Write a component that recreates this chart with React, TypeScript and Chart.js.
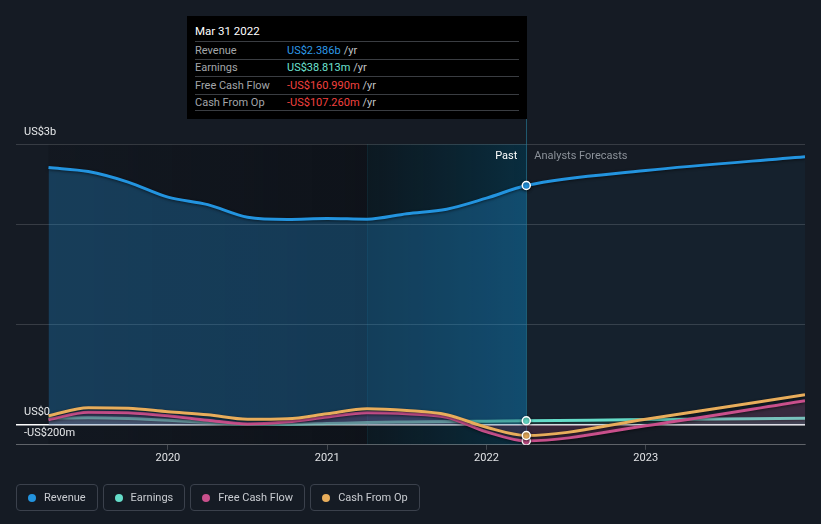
import React, { useEffect, useRef } from "react";
import { Chart, registerables } from "chart.js";

Chart.register(...registerables);

// ---- data (US$ millions, x = decimal year) ----
const periods = [2019.25, 2019.5, 2019.75, 2020.0, 2020.25, 2020.5, 2020.75, 2021.0, 2021.25, 2021.5, 2021.75, 2022.0, 2022.25, 2023.0, 2024.0];
const revenue = [2565, 2525, 2420, 2270, 2195, 2070, 2048, 2057, 2050, 2105, 2150, 2260, 2386, 2535, 2673];
const earnings = [65, 70, 62, 45, 22, 2, 3, 12, 22, 28, 33, 36, 38.813, 52, 65];
const freeCashFlow = [50, 125, 120, 90, 45, 8, 30, 77, 120, 110, 75, -70, -160.99, -10, 240];
const cashFromOp = [90, 170, 165, 130, 100, 55, 60, 110, 160, 142, 100, -25, -107.26, 55, 300];

const seriesNames = ["Revenue", "Earnings", "Free Cash Flow", "Cash From Op"];
const seriesColors = ["#2394df", "#65dcc9", "#c9508c", "#e8ad5b"];
const xTickValues = [2020, 2021, 2022, 2023];
const yTickValues = [-200, 0, 1000, 2000, 2800];
const yLabelValues = [2800, 0, -200];
const yLabelTexts = ["US$3b", "US$0", "-US$200m"];
const pastStart = 2019.25;
const highlightStart = 2021.25;
const markerX = 2022.25;
const tooltipTitle = "Mar 31 2022";
const pastText = "Past";
const forecastText = "Analysts Forecasts";

const FONT = "Roboto, 'Noto Sans', sans-serif";
const BG = "#151b24";

const allSeries = [revenue, earnings, freeCashFlow, cashFromOp];
const markerIndex = periods.indexOf(markerX);

function fmt(v: number): string {
  const a = Math.abs(v);
  const s = a >= 1000 ? (a / 1000).toFixed(3) + "b" : a.toFixed(3) + "m";
  return (v < 0 ? "-" : "") + "US$" + s;
}

const toPoints = (arr: number[]) => arr.map((y, i) => ({ x: periods[i], y }));

const backgroundPlugin = {
  id: "bgRegions",
  beforeDraw(chart: any) {
    const { ctx, chartArea, scales } = chart;
    const x = scales.x;
    const top = chartArea.top;
    const bottom = chartArea.bottom;
    const x0 = x.getPixelForValue(pastStart);
    const x1 = x.getPixelForValue(highlightStart);
    const x2 = x.getPixelForValue(markerX);
    ctx.save();
    const g1 = ctx.createLinearGradient(x0, 0, x1, 0);
    g1.addColorStop(0, "rgba(4,6,10,0.12)");
    g1.addColorStop(1, "rgba(4,6,10,0.38)");
    ctx.fillStyle = g1;
    ctx.fillRect(x0, top, x1 - x0, bottom - top);
    const g2 = ctx.createLinearGradient(x1, 0, x2, 0);
    g2.addColorStop(0, "rgba(6,24,32,0.55)");
    g2.addColorStop(1, "rgba(4,54,76,0.68)");
    ctx.fillStyle = g2;
    ctx.fillRect(x1, top, x2 - x1, bottom - top);
    ctx.restore();
  },
  beforeDatasetsDraw(chart: any) {
    const { ctx, chartArea, scales } = chart;
    const x2 = Math.round(scales.x.getPixelForValue(markerX)) + 0.5;
    const x1 = Math.round(scales.x.getPixelForValue(highlightStart)) + 0.5;
    ctx.save();
    ctx.strokeStyle = "rgba(38,130,160,0.6)";
    ctx.lineWidth = 1;
    ctx.beginPath();
    ctx.moveTo(x2, 119);
    ctx.lineTo(x2, chartArea.bottom);
    ctx.stroke();
    ctx.strokeStyle = "rgba(38,130,160,0.12)";
    ctx.beginPath();
    ctx.moveTo(x1, chartArea.top);
    ctx.lineTo(x1, chartArea.bottom);
    ctx.stroke();
    ctx.restore();
  },
  afterDraw(chart: any) {
    const { ctx, scales } = chart;
    const y = scales.y;
    const x = scales.x;
    ctx.save();
    ctx.font = `11px ${FONT}`;
    ctx.textBaseline = "middle";
    ctx.fillStyle = "#e6e8ea";
    ctx.textAlign = "left";
    yLabelValues.forEach((v, i) => {
      ctx.fillText(yLabelTexts[i], 24, y.getPixelForValue(v) - 12);
    });
    const xm = x.getPixelForValue(markerX);
    const ty = y.getPixelForValue(2800) + 12;
    ctx.textAlign = "right";
    ctx.fillStyle = "#ffffff";
    ctx.fillText(pastText, xm - 9, ty);
    ctx.textAlign = "left";
    ctx.fillStyle = "#8b9199";
    ctx.fillText(forecastText, xm + 8, ty);
    ctx.restore();
  },
};

const shadowPlugin = {
  id: "lineShadow",
  beforeDatasetDraw(chart: any) {
    const ctx = chart.ctx;
    ctx.save();
    ctx.shadowColor = "rgba(0,0,0,0.55)";
    ctx.shadowBlur = 3;
    ctx.shadowOffsetY = 1;
  },
  afterDatasetDraw(chart: any) {
    chart.ctx.restore();
  },
};

function hexToRgba(hex: string, a: number) {
  const n = parseInt(hex.slice(1), 16);
  return `rgba(${(n >> 16) & 255},${(n >> 8) & 255},${n & 255},${a})`;
}

export default function App() {
  const canvasRef = useRef<HTMLCanvasElement | null>(null);

  useEffect(() => {
    if (!canvasRef.current) return;
    Chart.defaults.font.family = FONT;
    const radius = (c: any) => (c.raw && c.raw.x === markerX ? 4 : 0);
    const mk = (idx: number, fill: any, bg: string, width: number, segment?: any) => ({
      label: seriesNames[idx],
      data: toPoints(allSeries[idx]),
      borderColor: seriesColors[idx],
      backgroundColor: bg,
      borderWidth: width,
      fill,
      cubicInterpolationMode: "monotone" as const,
      pointRadius: radius,
      pointHoverRadius: radius,
      pointBackgroundColor: seriesColors[idx],
      pointBorderColor: "#ffffff",
      pointBorderWidth: 1.5,
      segment,
    });
    const chart = new Chart(canvasRef.current, {
      type: "line",
      data: {
        datasets: [
          mk(3, false, "transparent", 3),
          mk(2, "origin", hexToRgba(seriesColors[2], 0.2), 3),
          mk(1, "origin", hexToRgba(seriesColors[1], 0.18), 3, {
            borderColor: (c: any) =>
              c.p0.parsed.x < markerX ? hexToRgba(seriesColors[1], 0.65) : undefined,
          }),
          mk(0, "origin", hexToRgba(seriesColors[0], 0.3), 3, {
            backgroundColor: (c: any) =>
              c.p0.parsed.x >= markerX ? hexToRgba(seriesColors[0], 0.05) : undefined,
          }),
        ],
      },
      options: {
        animation: false,
        responsive: false,
        events: [],
        layout: { padding: { left: 16, right: 16, top: 144, bottom: 57 } },
        plugins: { legend: { display: false }, tooltip: { enabled: false } },
        scales: {
          x: {
            type: "linear",
            min: 2019.046,
            max: 2024.0,
            afterBuildTicks: (axis: any) => {
              axis.ticks = xTickValues.map((v) => ({ value: v }));
            },
            ticks: {
              color: "#e0e2e5",
              font: { size: 11, family: FONT },
              padding: 2,
              maxRotation: 0,
              callback: (v: any) => String(v),
            },
            grid: {
              display: true,
              drawOnChartArea: false,
              drawTicks: true,
              tickLength: 5,
              color: "rgba(255,255,255,0.2)",
            },
            border: { display: true, color: "rgba(255,255,255,0.2)" },
          },
          y: {
            type: "linear",
            min: -200,
            max: 2800,
            afterBuildTicks: (axis: any) => {
              axis.ticks = yTickValues.map((v) => ({ value: v }));
            },
            ticks: { display: false },
            grid: {
              drawTicks: false,
              color: (c: any) => (c.tick && c.tick.value === 0 ? "#ffffff" : "rgba(255,255,255,0.15)"),
              lineWidth: (c: any) => (c.tick && c.tick.value === 0 ? 1.5 : 1),
            },
            border: { display: false },
          },
        },
      },
      plugins: [backgroundPlugin, shadowPlugin],
    } as any);
    return () => chart.destroy();
  }, []);

  const valueColor = (i: number) => {
    const v = allSeries[i][markerIndex];
    if (v < 0) return "#f2413f";
    return i === 0 ? "#2d9ae8" : "#6de3d2";
  };

  return (
    <div
      style={{
        position: "fixed",
        left: 0,
        top: 0,
        width: 821,
        height: 524,
        background: BG,
        fontFamily: FONT,
        overflow: "hidden",
      }}
    >
      <canvas
        ref={canvasRef}
        width={821}
        height={524}
        style={{ position: "absolute", left: 0, top: 0, width: 821, height: 524 }}
      />
      {/* tooltip panel */}
      <div
        style={{
          position: "absolute",
          left: 187,
          top: 16,
          width: 340,
          height: 103,
          background: "#000000",
          boxSizing: "border-box",
          padding: "0 8px",
          fontSize: 11,
        }}
      >
        <div
          style={{
            height: 25,
            paddingTop: 8,
            lineHeight: "14px",
            boxSizing: "border-box",
            color: "#ffffff",
            fontSize: 11.5,
          }}
        >
          {tooltipTitle}
        </div>
        {seriesNames.map((name, i) => (
          <div
            key={name}
            style={{
              height: 17.5,
              boxSizing: "border-box",
              borderTop: "1px solid #3a3d42",
              borderBottom: i === seriesNames.length - 1 ? "1px solid #3a3d42" : undefined,
              display: "flex",
              alignItems: "center",
              width: 324,
            }}
          >
            <span style={{ width: 92, color: "#a3a6aa" }}>{name}</span>
            <span style={{ color: valueColor(i) }}>{fmt(allSeries[i][markerIndex])}</span>
            <span style={{ color: "#c2c4c7", marginLeft: 3 }}>/yr</span>
          </div>
        ))}
      </div>
      {/* legend */}
      <div
        style={{
          position: "absolute",
          left: 16,
          top: 484,
          display: "flex",
          gap: 5,
        }}
      >
        {seriesNames.map((name, i) => (
          <div
            key={name}
            style={{
              height: 27,
              boxSizing: "border-box",
              border: "1px solid #3b414c",
              borderRadius: 4,
              padding: "0 11px",
              display: "flex",
              alignItems: "center",
              color: "#c9ccd1",
              fontSize: 11,
            }}
          >
            <span
              style={{
                width: 8,
                height: 8,
                borderRadius: 4,
                background: seriesColors[i],
                marginRight: 8,
                display: "inline-block",
              }}
            />
            {name}
          </div>
        ))}
      </div>
    </div>
  );
}
